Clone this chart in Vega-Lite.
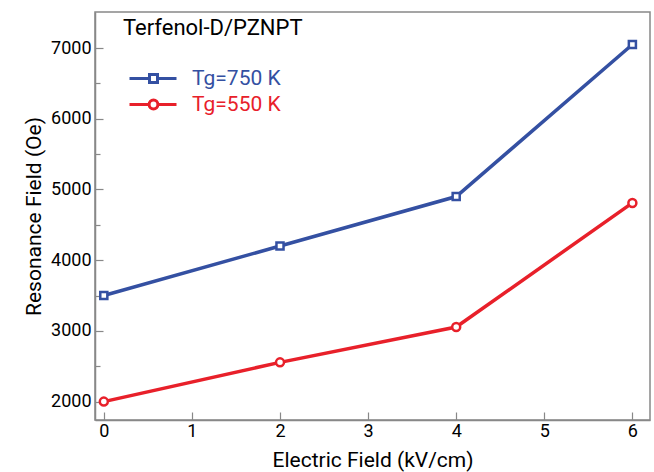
{
  "$schema": "https://vega.github.io/schema/vega-lite/v6.json",
  "width": 555,
  "height": 408,
  "autosize": {"type": "none"},
  "padding": {"left": 95, "top": 12, "right": 4, "bottom": 52},
  "background": "white",
  "config": {
    "font": "Roboto",
    "view": {"stroke": "#888", "strokeWidth": 1.5},
    "axis": {
      "domainColor": "#888",
      "domainWidth": 1.5,
      "tickColor": "#888",
      "tickWidth": 1.2,
      "grid": false,
      "labelColor": "black",
      "labelFontSize": 18,
      "titleColor": "black",
      "titleFontSize": 21,
      "titleFontWeight": "normal"
    },
    "legend": {
      "orient": "none",
      "titleFont": "Roboto",
      "titleFontSize": 22,
      "titleFontWeight": "normal",
      "titleColor": "black",
      "labelFont": "Roboto",
      "labelFontSize": 21,
      "symbolSize": 256,
      "symbolStrokeWidth": 3,
      "symbolFillColor": "white",
      "symbolOpacity": 1,
      "labelOffset": 48
    }
  },
  "data": {
    "values": [
      {"field": 0, "res": 3500, "series": "Tg=750 K"},
      {"field": 2, "res": 4200, "series": "Tg=750 K"},
      {"field": 4, "res": 4900, "series": "Tg=750 K"},
      {"field": 6, "res": 7050, "series": "Tg=750 K"},
      {"field": 0, "res": 2000, "series": "Tg=550 K"},
      {"field": 2, "res": 2555, "series": "Tg=550 K"},
      {"field": 4, "res": 3055, "series": "Tg=550 K"},
      {"field": 6, "res": 4810, "series": "Tg=550 K"}
    ]
  },
  "encoding": {
    "x": {
      "field": "field",
      "type": "quantitative",
      "scale": {"domain": [-0.1, 6.2], "nice": false, "zero": false},
      "axis": {
        "title": "Electric Field (kV/cm)",
        "values": [0, 0.5, 1, 1.5, 2, 2.5, 3, 3.5, 4, 4.5, 5, 5.5, 6],
        "format": "d",
        "labelExpr": "datum.value % 1 === 0 ? datum.label : ''",
        "tickSize": {"condition": {"test": "datum.value % 1 === 0", "value": -8}, "value": -5},
        "labelPadding": 10,
        "titlePadding": 9
      }
    },
    "y": {
      "field": "res",
      "type": "quantitative",
      "scale": {"domain": [1740, 7510], "nice": false, "zero": false},
      "axis": {
        "title": "Resonance Field (Oe)",
        "values": [2000, 2500, 3000, 3500, 4000, 4500, 5000, 5500, 6000, 6500, 7000],
        "format": "d",
        "labelExpr": "datum.value % 1000 === 0 ? datum.label : ''",
        "tickSize": {"condition": {"test": "datum.value % 1000 === 0", "value": -8}, "value": -5},
        "labelPadding": 12,
        "titlePadding": 6
      }
    }
  },
  "layer": [
    {
      "transform": [{"filter": "datum.series === 'Tg=750 K'"}],
      "mark": {"type": "line", "strokeWidth": 3.5},
      "encoding": {
        "stroke": {
          "field": "series",
          "type": "nominal",
          "scale": {"domain": ["Tg=750 K"], "range": ["#3450a2"]},
          "legend": {
            "title": "Terfenol-D/PZNPT",
            "legendX": 28,
            "legendY": 6,
            "titlePadding": 28,
            "labelColor": "#3450a2",
            "symbolType": "M-0.5,0H2M3,0H5.375M2,-0.5H3V0.5H2Z"
          }
        }
      }
    },
    {
      "transform": [{"filter": "datum.series === 'Tg=750 K'"}],
      "mark": {"type": "point", "shape": "square", "size": 50, "filled": false, "fill": "white", "fillOpacity": 1, "strokeWidth": 2.5, "opacity": 1},
      "encoding": {
        "stroke": {
          "field": "series",
          "type": "nominal",
          "legend": {
            "title": "Terfenol-D/PZNPT",
            "legendX": 28,
            "legendY": 6,
            "titlePadding": 28,
            "labelColor": "#3450a2",
            "symbolType": "M-0.5,0H2M3,0H5.375M2,-0.5H3V0.5H2Z"
          }
        }
      }
    },
    {
      "transform": [{"filter": "datum.series === 'Tg=550 K'"}],
      "mark": {"type": "line", "strokeWidth": 3.5},
      "encoding": {
        "color": {
          "field": "series",
          "type": "nominal",
          "scale": {"domain": ["Tg=550 K"], "range": ["#e8202a"]},
          "legend": {
            "title": null,
            "legendX": 28,
            "legendY": 82,
            "labelColor": "#e8202a",
            "symbolType": "M-0.5,0H1.95M3.05,0H5.375M1.95,0A0.55,0.55,0,1,0,3.05,0A0.55,0.55,0,1,0,1.95,0Z"
          }
        }
      }
    },
    {
      "transform": [{"filter": "datum.series === 'Tg=550 K'"}],
      "mark": {"type": "point", "shape": "circle", "size": 64, "filled": false, "fill": "white", "fillOpacity": 1, "strokeWidth": 2.5, "opacity": 1},
      "encoding": {
        "color": {
          "field": "series",
          "type": "nominal",
          "legend": {
            "title": null,
            "legendX": 28,
            "legendY": 82,
            "labelColor": "#e8202a",
            "symbolType": "M-0.5,0H1.95M3.05,0H5.375M1.95,0A0.55,0.55,0,1,0,3.05,0A0.55,0.55,0,1,0,1.95,0Z"
          }
        }
      }
    }
  ]
}
